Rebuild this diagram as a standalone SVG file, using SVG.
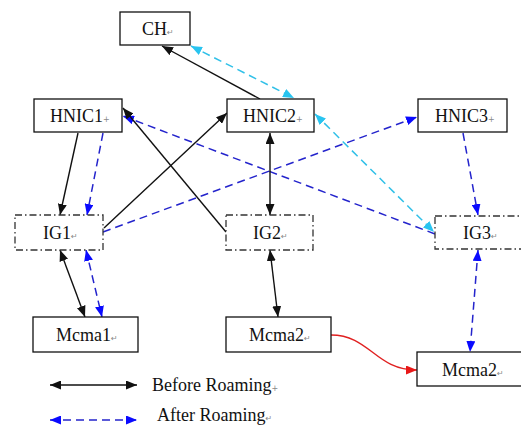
<svg xmlns="http://www.w3.org/2000/svg" width="521" height="427" viewBox="0 0 521 427">
<style>
.box{fill:#fff;stroke:#111;stroke-width:1.3}
.ig{fill:#fff;stroke:#333;stroke-width:1.3;stroke-dasharray:7 3 1.5 3}
.t{font-family:"Liberation Serif","Times New Roman",serif;font-size:18px;fill:#111}
.pm{font-family:"DejaVu Sans",sans-serif;font-size:8px;fill:#888}
.k{fill:none;stroke:#111;stroke-width:1.4}
.b{fill:none;stroke:#2424cc;stroke-width:1.5;stroke-dasharray:8 5}
.c{fill:none;stroke:#30c0e8;stroke-width:1.5;stroke-dasharray:8 5}
.r{fill:none;stroke:#e02020;stroke-width:1.4}
</style>
<defs>
<marker id="ak" markerUnits="userSpaceOnUse" markerWidth="11" markerHeight="9" refX="11" refY="4.5" orient="auto-start-reverse"><path d="M0,0 L11,4.5 L0,9 z" fill="#111"/></marker>
<marker id="ab" markerUnits="userSpaceOnUse" markerWidth="11" markerHeight="9" refX="11" refY="4.5" orient="auto-start-reverse"><path d="M0,0 L11,4.5 L0,9 z" fill="#0a0aff"/></marker>
<marker id="ac" markerUnits="userSpaceOnUse" markerWidth="11" markerHeight="9" refX="11" refY="4.5" orient="auto-start-reverse"><path d="M0,0 L11,4.5 L0,9 z" fill="#28c4f0"/></marker>
<marker id="ar" markerUnits="userSpaceOnUse" markerWidth="11" markerHeight="9" refX="11" refY="4.5" orient="auto-start-reverse"><path d="M0,0 L11,4.5 L0,9 z" fill="#e81818"/></marker>
</defs>
<rect width="521" height="427" fill="#fff"/>
<g id="connectors">
<path class="k" d="M260,99 L162,46" marker-end="url(#ak)"/>
<path class="c" d="M191,46 L294,98" marker-start="url(#ac)" marker-end="url(#ac)"/>
<path class="c" d="M315,114 L434,232" marker-start="url(#ac)" marker-end="url(#ac)"/>
<path class="b" d="M435,234 L123,116" marker-end="url(#ab)"/>
<path class="b" d="M103,232 L417,117" marker-end="url(#ab)"/>
<path class="k" d="M104,228 L227,113" marker-end="url(#ak)"/>
<path class="k" d="M226,232 L123,108" marker-end="url(#ak)"/>
<path class="k" d="M78,133 L60,215" marker-end="url(#ak)"/>
<path class="b" d="M103,133 L87,215" marker-end="url(#ab)"/>
<path class="k" d="M270,133 L270,215" marker-start="url(#ak)" marker-end="url(#ak)"/>
<path class="b" d="M463,133 L478,215" marker-end="url(#ab)"/>
<path class="k" d="M60,250 L85,317" marker-start="url(#ak)" marker-end="url(#ak)"/>
<path class="b" d="M86,250 L102,317" marker-start="url(#ab)" marker-end="url(#ab)"/>
<path class="k" d="M270,250 L278,317" marker-start="url(#ak)" marker-end="url(#ak)"/>
<path class="b" d="M478,250 L470,352" marker-start="url(#ab)" marker-end="url(#ab)"/>
<path class="r" d="M331,335 C370,335 375,370 417,370" marker-end="url(#ar)"/>
<path class="k" d="M50,385 L137,385" marker-start="url(#ak)" marker-end="url(#ak)"/>
<path class="b" d="M50,420 L137,420" marker-start="url(#ab)" marker-end="url(#ab)"/>
</g>
<g id="CH"><rect class="box" x="120" y="12" width="70" height="33"/><text class="t" x="142" y="35">CH<tspan class="pm">↵</tspan></text></g>
<g id="HNIC1"><rect class="box" x="34" y="99" width="88" height="33"/><text class="t" x="50" y="122">HNIC1<tspan class="pm">+</tspan></text></g>
<g id="HNIC2"><rect class="box" x="227" y="99" width="87" height="33"/><text class="t" x="243" y="122">HNIC2<tspan class="pm">+</tspan></text></g>
<g id="HNIC3"><rect class="box" x="418" y="99" width="89" height="33"/><text class="t" x="435" y="122">HNIC3<tspan class="pm">+</tspan></text></g>
<g id="IG1"><rect class="ig" x="15" y="215" width="88" height="35"/><text class="t" x="43" y="239">IG1<tspan class="pm">↵</tspan></text></g>
<g id="IG2"><rect class="ig" x="226" y="215" width="87" height="35"/><text class="t" x="253" y="239">IG2<tspan class="pm">↵</tspan></text></g>
<g id="IG3"><rect class="ig" x="435" y="216" width="87" height="33"/><text class="t" x="463" y="239">IG3<tspan class="pm">↵</tspan></text></g>
<g id="Mcma1"><rect class="box" x="33" y="317" width="105" height="35"/><text class="t" x="56" y="341">Mcma1<tspan class="pm">↵</tspan></text></g>
<g id="Mcma2a"><rect class="box" x="226" y="317" width="105" height="35"/><text class="t" x="249" y="341">Mcma2<tspan class="pm">↵</tspan></text></g>
<g id="Mcma2b"><rect class="box" x="417" y="352" width="106" height="34"/><text class="t" x="442" y="376">Mcma2<tspan class="pm">↵</tspan></text></g>
<g id="legend"><text class="t" x="152" y="391">Before Roaming<tspan class="pm">+</tspan></text><text class="t" x="157" y="421">After Roaming<tspan class="pm">↵</tspan></text></g>
</svg>
